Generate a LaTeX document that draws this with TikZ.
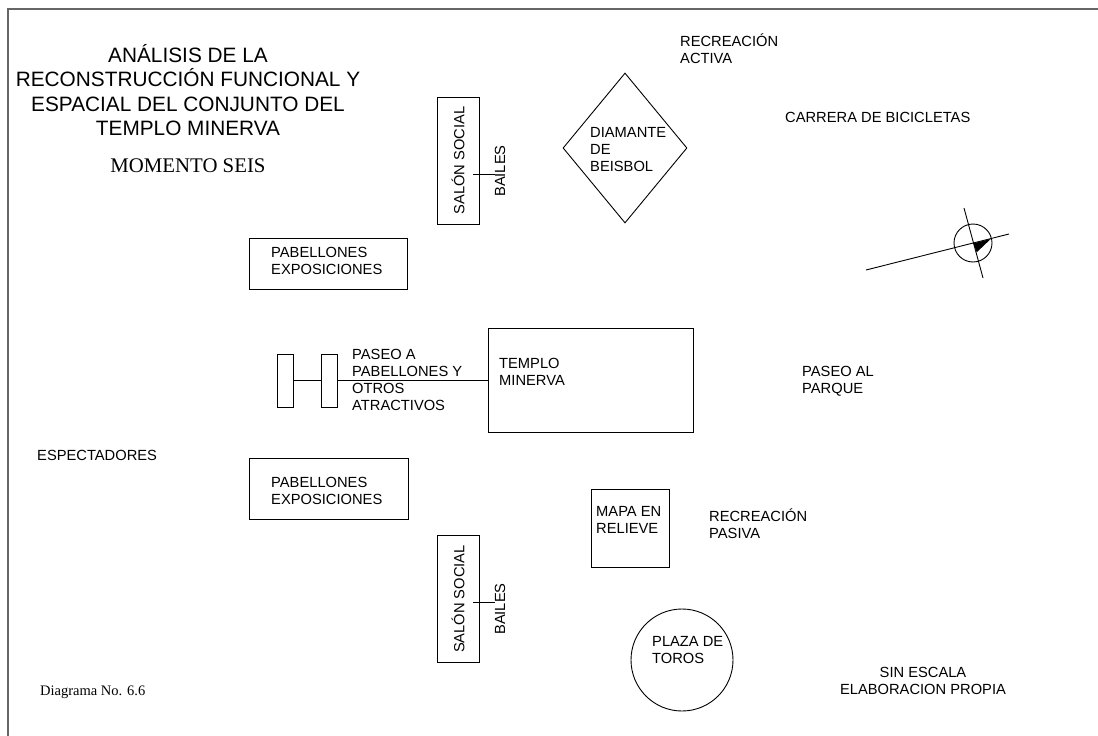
\documentclass[tikz,border=0pt]{standalone}
\usepackage{fontspec}
\usetikzlibrary{shapes.geometric}
\newfontfamily\arialf{Liberation Sans}
\newfontfamily\timesf{Liberation Serif}
\newcommand\lblfont{\arialf\fontsize{14.7}{17}\selectfont}
\tikzset{
  lbl/.style={font=\lblfont, inner sep=0pt, align=left, anchor=west},
  box/.style={draw, line width=0.9pt, inner sep=0pt},
  frameline/.style={draw=black!60, line width=1.5pt},
  thin/.style={line width=0.9pt}
}
\begin{document}
\begin{tikzpicture}[x=1pt,y=-1pt]
\useasboundingbox (0,0) rectangle (1098,736);
% frame
\coordinate (fa) at (8,736);
\coordinate (fb) at (8,9);
\coordinate (fc) at (1098,9);
\draw[frameline] (fa) -- (fb) -- (fc);

% title
\node[font=\arialf\fontsize{20.8}{24.5}\selectfont, align=center, inner sep=0pt] (title) at (188,90)
  {ANÁLISIS DE LA\\RECONSTRUCCIÓN FUNCIONAL Y\\ESPACIAL DEL CONJUNTO DEL\\TEMPLO MINERVA};
\node[font=\timesf\fontsize{20.8}{24}\selectfont, inner sep=0pt] (momento) at (188,166) {MOMENTO SEIS};

% salon social top
\node[box, rotate=90, minimum width=127pt, minimum height=42pt, font=\lblfont] (s1) at (458,160.5) {SALÓN SOCIAL};
\node[font=\lblfont, rotate=90, inner sep=0pt] (b1) at (500,171) {BAILES};
\coordinate (s1a) at (473,174);
\draw[thin] (s1a) -- (s1a -| b1.north);

% salon social bottom
\node[box, rotate=90, minimum width=127pt, minimum height=42pt, font=\lblfont] (s2) at (458,599) {SALÓN SOCIAL};
\node[font=\lblfont, rotate=90, inner sep=0pt] (b2) at (500,609) {BAILES};
\coordinate (s2a) at (473,602);
\draw[thin] (s2a) -- (s2a -| b2.north);

% diamond
\node[box, diamond, minimum width=124pt, minimum height=150pt] (dia) at (625,148) {};
\node[lbl] (diat) at (590,150) {DIAMANTE\\DE\\BEISBOL};

% pabellones
\node[box, minimum width=158pt, minimum height=51pt] (pab1) at (328,263.5) {};
\node[lbl] (pab1t) at (271,260.5) {PABELLONES\\EXPOSICIONES};
\node[box, minimum width=159pt, minimum height=61pt] (pab2) at (328.5,488.5) {};
\node[lbl] (pab2t) at (271,490.5) {PABELLONES\\EXPOSICIONES};

% paseo
\node[box, minimum width=16pt, minimum height=53pt] (p1) at (285,380.5) {};
\node[box, minimum width=16pt, minimum height=53pt] (p2) at (329,380.5) {};
\node[box, minimum width=205pt, minimum height=104pt] (templo) at (590.5,380.5) {};
\node[lbl] (templot) at (499,372) {TEMPLO\\MINERVA};
\draw[thin] (p1.east) -- (p2.west);
\draw[thin] (p2.east) -- (templo.west);
\node[lbl] (paseo) at (352,380) {PASEO A\\PABELLONES Y\\OTROS\\ATRACTIVOS};

% mapa
\node[box, minimum width=78pt, minimum height=78pt] (mapa) at (630,528) {};
\node[lbl] (mapat) at (596,519.5) {MAPA EN\\RELIEVE};

% plaza
\node[box, circle, minimum size=102pt] (plaza) at (682,660) {};
\node[lbl] (plazat) at (652,650) {PLAZA DE\\TOROS};

% labels
\node[lbl] (activa) at (680,49) {RECREACIÓN\\ACTIVA};
\node[lbl] (carrera) at (785,117) {CARRERA DE BICICLETAS};
\node[lbl] (parque) at (802,381.5) {PASEO AL\\PARQUE};
\node[lbl] (pasiva) at (709,523.5) {RECREACIÓN\\PASIVA};
\node[lbl] (espect) at (37,455) {ESPECTADORES};
\node[font=\lblfont, inner sep=0pt, align=center] (escala) at (923,681) {SIN ESCALA\\ELABORACION PROPIA};
\node[font=\timesf\fontsize{14.5}{17}\selectfont, inner sep=0pt, anchor=west] (diag) at (40,692) {Diagrama No. 6.6};

% compass
\draw[thin] (973,243) circle (19);
\draw[thin] (866,270) -- (1009,234);
\draw[thin] (964,208) -- (983,278);
\fill (973.3,243.3) -- (990.7,239) -- (976.7,252.3) -- cycle;
\end{tikzpicture}
\end{document}
